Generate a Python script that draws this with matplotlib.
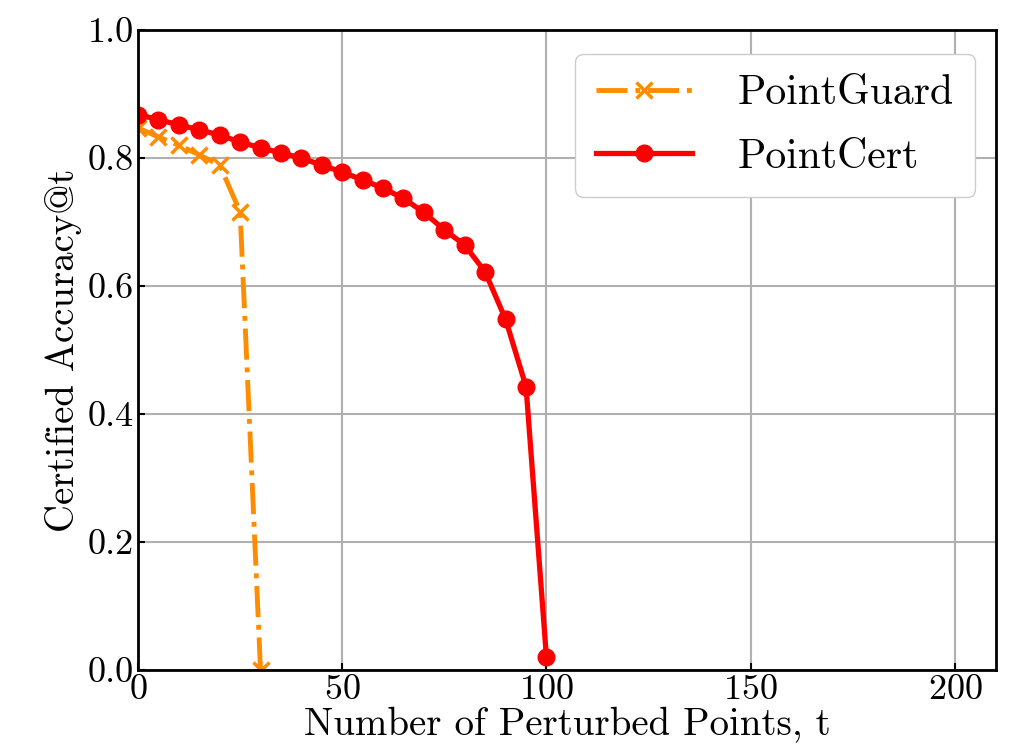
import matplotlib
matplotlib.use("Agg")
import matplotlib.pyplot as plt

plt.rcParams['font.family'] = 'serif'
plt.rcParams['font.serif'] = ['cmr10', 'DejaVu Serif']
plt.rcParams['mathtext.fontset'] = 'cm'
plt.rcParams['axes.formatter.use_mathtext'] = True

# data
t_guard = [0, 5, 10, 15, 20, 25, 30]
acc_guard = [0.847, 0.833, 0.820, 0.805, 0.789, 0.716, 0.0]

t_cert = [0, 5, 10, 15, 20, 25, 30, 35, 40, 45, 50,
          55, 60, 65, 70, 75, 80, 85, 90, 95, 100]
acc_cert = [0.868, 0.860, 0.852, 0.844, 0.836, 0.825, 0.816, 0.808, 0.800, 0.789, 0.778,
            0.766, 0.753, 0.737, 0.715, 0.688, 0.664, 0.622, 0.548, 0.443, 0.020]

fig = plt.figure(figsize=(10.26, 7.52), dpi=100)
ax = fig.add_axes([0.1345, 0.109, 0.836, 0.851])

ax.plot(t_guard, acc_guard, color='darkorange', linestyle='-.', marker='x',
        linewidth=3.5, markersize=11, markeredgewidth=2.5, label='PointGuard')
ax.plot(t_cert, acc_cert, color='red', linestyle='-', marker='o',
        linewidth=3.8, markersize=12, label='PointCert')

ax.set_xlim(0, 210)
ax.set_ylim(0, 1.0)
ax.set_xticks([0, 50, 100, 150, 200])
ax.set_yticks([0.0, 0.2, 0.4, 0.6, 0.8, 1.0])
ax.set_yticklabels(['0.0', '0.2', '0.4', '0.6', '0.8', '1.0'])
ax.grid(True, color='#b0b0b0', linewidth=1.5)
ax.set_axisbelow(True)
ax.tick_params(direction='in', length=5, width=1.5, labelsize=26, pad=3)
for s in ax.spines.values():
    s.set_linewidth(2)

ax.set_xlabel('Number of Perturbed Points, t', fontsize=28, labelpad=1)
ax.set_ylabel('Certified Accuracy@t', fontsize=28, labelpad=4)

ax.legend(loc='upper right', fontsize=30, handlelength=2.3, borderpad=0.5,
          labelspacing=0.62, handletextpad=1.1, framealpha=1.0, edgecolor='#cccccc',
          bbox_to_anchor=(1.0, 0.995))

fig.savefig('out.png', dpi=100)
